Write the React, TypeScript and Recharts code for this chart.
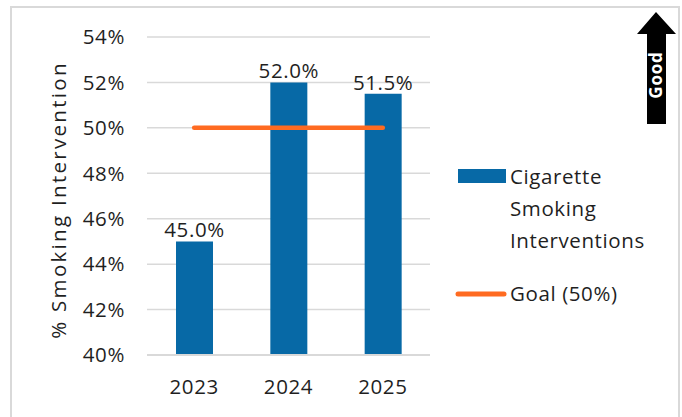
import React from 'react';
import {
  ComposedChart, Bar, Line, XAxis, YAxis, CartesianGrid, LabelList, Label,
} from 'recharts';

const years = ['2023', '2024', '2025'];
const interventionPct = [45.0, 52.0, 51.5];
const goalPct = [50, 50, 50];
const yTicks = [40, 42, 44, 46, 48, 50, 52, 54];

const BAR_COLOR = '#0769a6';
const GOAL_COLOR = '#ff6b21';
const GRID = '#d9d9d9';
const TEXT = '#1f1f1f';
const FONT = '"Open Sans", sans-serif';
const FS = 20.5;
const LS = 0.6;

const data = years.map((year, i) => ({
  year,
  value: interventionPct[i],
  goal: goalPct[i],
}));

function GoodArrow() {
  return (
    <svg width={682} height={417} style={{ position: 'absolute', left: 0, top: 0, pointerEvents: 'none' }}>
      <polygon
        points="656,12 637,34 647,34 647,124 666,124 666,34 676,34"
        fill="#000"
      />
      <text
        x={662}
        y={75}
        transform="rotate(-90 662 75)"
        textAnchor="middle"
        fill="#fff"
        fontFamily={FONT}
        fontWeight={700}
        fontSize={17}
        letterSpacing={0.8}
      >
        Good
      </text>
    </svg>
  );
}

function LegendBox() {
  return (
    <svg width={682} height={417} style={{ position: 'absolute', left: 0, top: 0, pointerEvents: 'none' }}>
      <rect x={458} y={169} width={48} height={14} fill={BAR_COLOR} />
      <text fontFamily={FONT} fontSize={FS} fill={TEXT} letterSpacing={LS}>
        <tspan x={510} y={184}>Cigarette</tspan>
        <tspan x={510} y={216}>Smoking</tspan>
        <tspan x={510} y={248}>Interventions</tspan>
      </text>
      <line x1={458} y1={294} x2={504} y2={294} stroke={GOAL_COLOR} strokeWidth={5} strokeLinecap="round" />
      <text x={510} y={301} fontFamily={FONT} fontSize={FS} fill={TEXT} letterSpacing={LS}>Goal (50%)</text>
    </svg>
  );
}

export default function App() {
  return (
    <div style={{ position: 'absolute', left: 0, top: 0, width: 682, height: 417, background: '#fff', overflow: 'hidden' }}>
      <div style={{ position: 'absolute', left: 10, top: 6, width: 670, height: 420, border: `2px solid ${GRID}`, boxSizing: 'border-box' }} />
      <ComposedChart
        width={682}
        height={417}
        data={data}
        margin={{ top: 37, right: 252, bottom: 22, left: 0 }}
        style={{ fontFamily: FONT }}
      >
        <CartesianGrid vertical={false} stroke={GRID} strokeWidth={1.5} />
        <XAxis
          dataKey="year"
          height={40}
          axisLine={{ stroke: GRID, strokeWidth: 2 }}
          tickLine={false}
          tickMargin={18}
          tick={{ fill: TEXT, fontSize: FS, letterSpacing: LS }}
        />
        <YAxis
          width={147}
          domain={[40, 54]}
          ticks={yTicks}
          axisLine={false}
          tickLine={false}
          tickMargin={16}
          tickFormatter={(v: number) => `${v}%`}
          tick={{ fill: TEXT, fontSize: FS, letterSpacing: LS }}
        >
          <Label
            content={() => (
              <text
                x={66}
                y={200}
                transform="rotate(-90 66 200)"
                textAnchor="middle"
                fill={TEXT}
                fontSize={FS}
                fontFamily={FONT}
                letterSpacing={2.3}
              >
                % Smoking Intervention
              </text>
            )}
          />
        </YAxis>
        <Bar dataKey="value" fill={BAR_COLOR} barSize={37} isAnimationActive={false}>
          <LabelList
            dataKey="value"
            position="top"
            offset={4}
            fill={TEXT}
            fontSize={FS}
            letterSpacing={LS}
            formatter={(v: number) => `${v.toFixed(1)}%`}
          />
        </Bar>
        <Line
          dataKey="goal"
          stroke={GOAL_COLOR}
          strokeWidth={4.5}
          strokeLinecap="round"
          dot={false}
          activeDot={false}
          isAnimationActive={false}
        />
      </ComposedChart>
      <LegendBox />
      <GoodArrow />
    </div>
  );
}
